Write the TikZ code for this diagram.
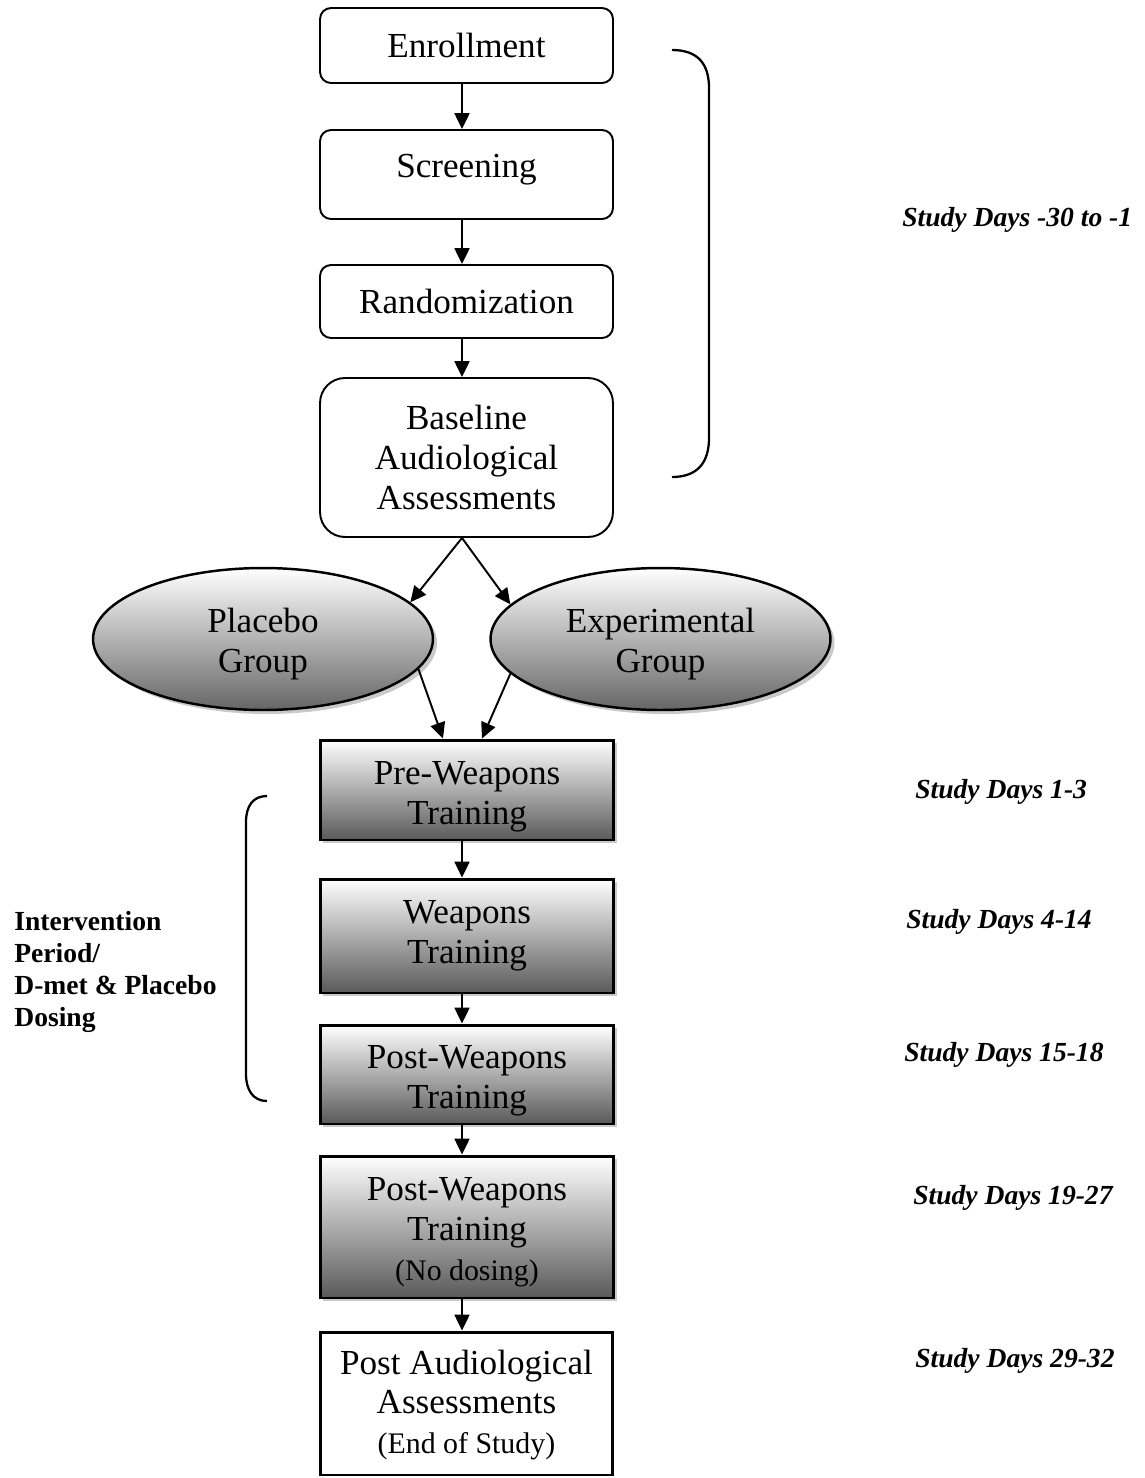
\documentclass[tikz,border=0pt]{standalone}
\usepackage{fontspec}
\setmainfont{Liberation Serif}
\usetikzlibrary{arrows.meta,shapes.geometric,shadows}
\newcommand\firstup[1]{\rule{0pt}{#1}}
\begin{document}
\begin{tikzpicture}[x=0.02cm,y=-0.02cm,
  boxfont/.style={font=\fontsize{20pt}{22.7pt}\selectfont},
  rbox/.style={draw,line width=1.1pt,rounded corners=0.22cm,minimum width=5.86cm,inner sep=0pt,align=center,boxfont,fill=white},
  gbox/.style={draw,line width=1.7pt,minimum width=5.88cm,inner sep=0pt,align=center,boxfont,
     top color=white,bottom color=black!65,
     drop shadow={shadow xshift=0.06cm,shadow yshift=-0.06cm,fill=black!35,opacity=0.6}},
  wbox/.style={draw,line width=1.7pt,minimum width=5.86cm,inner sep=0pt,align=center,boxfont,fill=white},
  grp/.style={ellipse,draw,line width=1.4pt,minimum width=6.8cm,minimum height=2.84cm,inner sep=0pt,align=center,boxfont,
     top color=white,bottom color=black!60,
     drop shadow={shadow xshift=0.08cm,shadow yshift=-0.08cm,fill=black!35,opacity=0.6}},
  arr/.style={line width=1.1pt,-{Triangle[width=8.5pt,length=9pt]}},
  brk/.style={line width=1.3pt},
  daylab/.style={anchor=west,inner sep=0pt,font=\fontsize{15.7pt}{18pt}\selectfont\bfseries\itshape},
  sidelab/.style={anchor=west,inner sep=0pt,align=left,font=\fontsize{15.7pt}{18.1pt}\selectfont\bfseries}]
\useasboundingbox[fill=white] (0,0) rectangle (1145,1478);
\coordinate (ax) at (462,0);

\node[rbox,minimum height=1.5cm] (enr) at (466.5,45.5) {Enrollment};
\node[rbox,minimum height=1.78cm] (scr) at (466.5,174.5) {\raisebox{-1.5pt}[0pt][0pt]{Screening}};
\node[rbox,minimum height=1.46cm] (ran) at (466.5,301.5) {Randomization};
\node[rbox,minimum height=3.18cm,rounded corners=0.5cm] (bas) at (466.5,457.5) {Baseline\\Audiological\\Assessments};

\node[grp] (pla) at (263,639) {\firstup{19.4pt}Placebo\\Group};
\node[grp] (exp) at (660.5,639) {\firstup{19.4pt}Experimental\\Group};

\node[gbox,minimum height=2cm] (pre) at (467,790) {\firstup{21pt}Pre-Weapons\\Training};
\node[gbox,minimum height=2.28cm] (wea) at (467,936) {Weapons\\Training};
\node[gbox,minimum height=1.98cm] (pst) at (467,1074.5) {\firstup{20.3pt}Post-Weapons\\Training};
\node[gbox,minimum height=2.84cm] (nod) at (467,1227) {\firstup{19pt}Post-Weapons\\Training\\{\fontsize{17pt}{20pt}\selectfont (No dosing)}};
\node[wbox,minimum height=2.86cm] (aud) at (466.5,1403.5) {\firstup{15.5pt}Post Audiological\\Assessments\\{\fontsize{17pt}{20pt}\selectfont (End of Study)}};

\draw[arr] (enr.south -| ax) -- (scr.north -| ax);
\draw[arr] (scr.south -| ax) -- (ran.north -| ax);
\draw[arr] (ran.south -| ax) -- (bas.north -| ax);
\draw[arr] (bas.south -| ax) -- (pla.14);
\draw[arr] (bas.south -| ax) -- (exp.167);
\coordinate (pl) at (443,0);
\coordinate (pr) at (482,0);
\draw[arr] (pla.-11) -- (pre.north -| pl);
\draw[arr] (exp.193) -- (pre.north -| pr);
\draw[arr] (pre.south -| ax) -- (wea.north -| ax);
\draw[arr] (wea.south -| ax) -- (pst.north -| ax);
\draw[arr] (pst.south -| ax) -- (nod.north -| ax);
\draw[arr] (nod.south -| ax) -- (aud.north -| ax);

% brackets
\draw[brk] (672,50) .. controls (698,50) and (709,64) .. (709,88) -- (709,438) .. controls (709,462) and (698,477) .. (672,477);
\draw[brk] (267,796) .. controls (253,796) and (246,806) .. (246,822) -- (246,1074) .. controls (246,1090) and (253,1101) .. (267,1101);

% labels
\node[daylab] (l1) at (902,220) {Study Days -30 to -1};
\node[daylab] (l2) at (915,792) {Study Days 1-3};
\node[daylab] (l3) at (906,922) {Study Days 4-14};
\node[daylab] (l4) at (904,1055) {Study Days 15-18};
\node[daylab] (l5) at (913,1198) {Study Days 19-27};
\node[daylab] (l6) at (915,1361) {Study Days 29-32};
\node[sidelab] (side) at (14,972) {Intervention\\Period/\\D-met \& Placebo\\Dosing};
\end{tikzpicture}
\end{document}
